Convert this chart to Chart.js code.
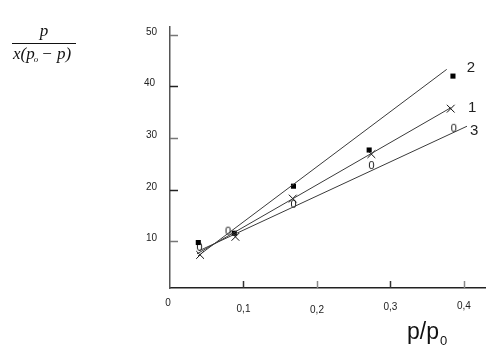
<!DOCTYPE html>
<html>
<head>
<meta charset="utf-8">
<script src="https://cdn.jsdelivr.net/npm/chart.js@4.4.0/dist/chart.umd.min.js"></script>
<style>
    body { margin: 0; background: #fff; }
    #wrap { width: 501px; height: 359px; }
</style>
</head>
<body>
<div id="wrap"><canvas id="isotherm" width="501" height="359"></canvas></div>
<script>
// measured points, p/p0 and p/(x(p0-p))
const relPressure1 = [0.041, 0.089, 0.167, 0.274, 0.382];
const values1 = [7.4, 10.9, 18.3, 26.9, 35.7];
const relPressure2 = [0.0385, 0.0875, 0.168, 0.271, 0.385];
const values2 = [9.8, 11.6, 20.7, 27.7, 42.0];
const relPressure3 = [0.040, 0.079, 0.168, 0.274, 0.386];
const values3 = [8.9, 12.0, 17.2, 24.7, 31.9];

// fitted straight lines (start / end)
const fitX1 = [0.0367, 0.3823];
const fitY1 = [7.6, 35.9];
const fitX2 = [0.0381, 0.3765];
const fitY2 = [7.2, 43.3];
const fitX3 = [0.0395, 0.4041];
const fitY3 = [8.2, 32.3];

const lineNames = ['1', '2', '3'];

const xTicks = [0, 0.1, 0.2, 0.3, 0.4];
const xTickLabels = ['0', '0,1', '0,2', '0,3', '0,4'];
const yTicks = [10, 20, 30, 40, 50];
const yTickLabels = ['10', '20', '30', '40', '50'];

const toPoints = (xs, ys) => xs.map((x, i) => ({ x: x, y: ys[i] }));

// the "0"-like marker of series 3
function zeroMarker() {
    const c = document.createElement('canvas');
    c.width = 9; c.height = 11;
    const g = c.getContext('2d');
    g.fillStyle = '#111';
    g.font = '11px "Liberation Sans", Arial, sans-serif';
    g.textAlign = 'center';
    g.textBaseline = 'middle';
    g.fillText('0', 4.5, 6);
    return c;
}

const xLabelDrop = [15, 21, 22, 19, 18];
const yLabelShift = [0, 0, 0, 2, 0];

const serif = '"Liberation Serif", "Times New Roman", serif';
const sans = '"Liberation Sans", Arial, sans-serif';

const decorations = {
    id: 'decorations',
    afterDraw(chart) {
        const ctx = chart.ctx;
        const xs = chart.scales.x, ys = chart.scales.y;
        const axisY = ys.getPixelForValue(ys.min);
        const axisX = xs.getPixelForValue(0);
        ctx.save();

        // inner tick marks
        ctx.lineWidth = 1.5;
        xTicks.forEach((v, i) => {
            if (i === 0) return;
            const px = Math.round(xs.getPixelForValue(v)) + 0.5;
            ctx.strokeStyle = i % 2 ? '#333' : '#888';
            ctx.beginPath();
            ctx.moveTo(px, axisY);
            ctx.lineTo(px, axisY - 7);
            ctx.stroke();
        });
        yTicks.forEach((v, i) => {
            const py = Math.round(ys.getPixelForValue(v)) + 0.5;
            ctx.strokeStyle = i % 2 ? '#222' : '#777';
            ctx.beginPath();
            ctx.moveTo(axisX, py);
            ctx.lineTo(axisX + 8, py);
            ctx.stroke();
        });

        // tick labels
        ctx.fillStyle = '#222';
        ctx.font = '10px ' + sans;
        ctx.textAlign = 'center';
        ctx.textBaseline = 'middle';
        xTicks.forEach((v, i) => {
            ctx.fillText(xTickLabels[i], xs.getPixelForValue(v) - (i === 0 ? 2 : 0), axisY + xLabelDrop[i]);
        });
        ctx.textAlign = 'right';
        yTicks.forEach((v, i) => {
            ctx.fillText(yTickLabels[i], axisX - 13 - yLabelShift[i], ys.getPixelForValue(v) - 3);
        });

        // line numbers
        ctx.font = '15px ' + sans;
        ctx.textAlign = 'left';
        const ends = [[fitX1, fitY1, 17, 0], [fitX2, fitY2, 20, -2], [fitX3, fitY3, 3, 5]];
        ends.forEach((e, i) => {
            const px = xs.getPixelForValue(e[0][1]);
            const py = ys.getPixelForValue(e[1][1]);
            ctx.fillText(lineNames[i], px + e[2], py + e[3]);
        });

        // y title: p / x(p_o - p)
        ctx.fillStyle = '#111';
        ctx.textBaseline = 'alphabetic';
        ctx.font = 'italic 17px ' + serif;
        ctx.textAlign = 'center';
        ctx.fillText('p', 44, 36);
        ctx.strokeStyle = '#111';
        ctx.lineWidth = 1;
        ctx.beginPath();
        ctx.moveTo(12, 43.5);
        ctx.lineTo(76, 43.5);
        ctx.stroke();
        ctx.textAlign = 'left';
        let cx = 13;
        ctx.fillText('x(p', cx, 59);
        cx += ctx.measureText('x(p').width;
        ctx.font = 'italic 9px ' + serif;
        ctx.fillText('o', cx - 1, 62);
        cx += ctx.measureText('o').width + 2;
        ctx.font = 'italic 17px ' + serif;
        ctx.fillText('\u2212 p)', cx, 59);

        // x title: p/p0
        ctx.font = '23px ' + sans;
        ctx.fillText('p/p', 407, 339);
        const w = ctx.measureText('p/p').width;
        ctx.font = '13px ' + sans;
        ctx.fillText('0', 407 + w + 1, 345);
        ctx.restore();
    }
};

const fitStyle = { type: 'line', showLine: true, pointRadius: 0, borderColor: '#3a3a3a', borderWidth: 1, fill: false };

new Chart(document.getElementById('isotherm'), {
    type: 'scatter',
    data: {
        datasets: [
            Object.assign({ data: toPoints(fitX1, fitY1) }, fitStyle),
            Object.assign({ data: toPoints(fitX2, fitY2) }, fitStyle),
            Object.assign({ data: toPoints(fitX3, fitY3) }, fitStyle),
            {
                label: '1',
                data: toPoints(relPressure1, values1),
                pointStyle: 'crossRot',
                pointRadius: 5.5,
                borderColor: '#111',
                borderWidth: 1
            },
            {
                label: '2',
                data: toPoints(relPressure2, values2),
                pointStyle: 'rect',
                pointRadius: 3.6,
                backgroundColor: '#000',
                borderColor: '#000',
                borderWidth: 0
            },
            {
                label: '3',
                data: toPoints(relPressure3, values3),
                pointStyle: zeroMarker()
            }
        ]
    },
    options: {
        responsive: false,
        animation: false,
        layout: { padding: { left: 170, right: 16, top: 27, bottom: 71 } },
        plugins: {
            legend: { display: false },
            tooltip: { enabled: false }
        },
        scales: {
            x: {
                type: 'linear',
                min: 0,
                max: 0.4286,
                ticks: { display: false },
                grid: { display: false, drawTicks: false },
                border: { display: true, color: '#222', width: 1.5 }
            },
            y: {
                type: 'linear',
                min: 1,
                max: 51.5,
                ticks: { display: false },
                grid: { display: false, drawTicks: false },
                border: { display: true, color: '#555', width: 1.5 }
            }
        }
    },
    plugins: [decorations]
});
</script>
</body>
</html>
